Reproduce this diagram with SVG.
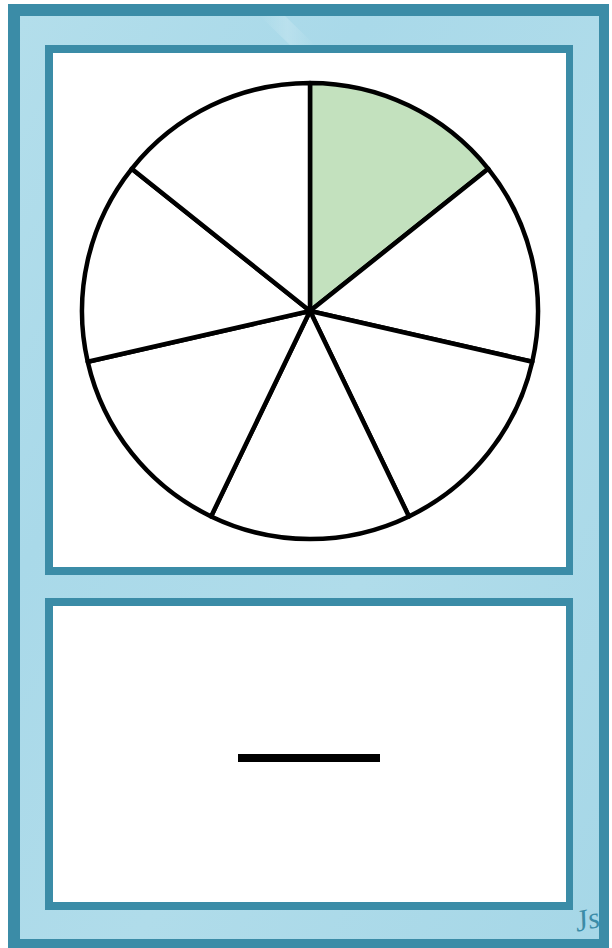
<svg xmlns="http://www.w3.org/2000/svg" width="612" height="948" viewBox="0 0 612 948">
  <style>
    .dark { fill: #3b8ca7; }
    .light { fill: url(#water); }
    .panel { fill: #ffffff; }
    .slice { fill: #ffffff; stroke: #000000; stroke-width: 4.5; stroke-linejoin: round; }
    .shaded { fill: #c3e1be; }
    .sig { font-family: "Liberation Serif", "DejaVu Serif", serif; font-style: italic; font-size: 30px; fill: #3b8ca7; }
  </style>
  <defs>
    <linearGradient id="water" x1="0" y1="0" x2="1" y2="1">
      <stop offset="0" stop-color="#b3deeb"/>
      <stop offset="0.3" stop-color="#a9d9e9"/>
      <stop offset="0.6" stop-color="#b0dcea"/>
      <stop offset="1" stop-color="#a6d7e7"/>
    </linearGradient>
    <linearGradient id="streak" x1="0" y1="0" x2="1" y2="0">
      <stop offset="0" stop-color="#ffffff" stop-opacity="0"/>
      <stop offset="0.5" stop-color="#ffffff" stop-opacity="0.18"/>
      <stop offset="1" stop-color="#ffffff" stop-opacity="0"/>
    </linearGradient>
  </defs>

  <g id="frame">
    <rect class="dark" x="8" y="4" width="601" height="944"/>
    <rect class="light" x="20" y="16" width="579" height="923"/>
    <polygon points="260,16 285,16 315,45 290,45" fill="url(#streak)"/>
  </g>

  <g id="top-panel">
    <rect class="dark" x="45" y="45" width="528" height="530"/>
    <rect class="panel" x="53" y="53" width="513" height="514"/>
  </g>

  <g id="pie">
    <path id="slice-1" class="slice shaded" d="M310,311 L310,83 A228,228 0 0 1 488.26,168.84 Z"/>
    <path id="slice-2" class="slice" d="M310,311 L488.26,168.84 A228,228 0 0 1 532.28,361.73 Z"/>
    <path id="slice-3" class="slice" d="M310,311 L532.28,361.73 A228,228 0 0 1 408.92,516.42 Z"/>
    <path id="slice-4" class="slice" d="M310,311 L408.92,516.42 A228,228 0 0 1 211.08,516.42 Z"/>
    <path id="slice-5" class="slice" d="M310,311 L211.08,516.42 A228,228 0 0 1 87.72,361.73 Z"/>
    <path id="slice-6" class="slice" d="M310,311 L87.72,361.73 A228,228 0 0 1 131.74,168.84 Z"/>
    <path id="slice-7" class="slice" d="M310,311 L131.74,168.84 A228,228 0 0 1 310,83 Z"/>
  </g>

  <g id="bottom-panel">
    <rect class="dark" x="45" y="598" width="528" height="312"/>
    <rect class="panel" x="53" y="606" width="513" height="296"/>
  </g>

  <g id="fraction-bar">
    <rect x="238" y="754" width="142" height="8" fill="#000000"/>
  </g>

  <g id="connectors"></g>

  <g id="signature">
    <text class="sig" x="574" y="930" transform="rotate(-12 584 918)">Js</text>
  </g>
</svg>
